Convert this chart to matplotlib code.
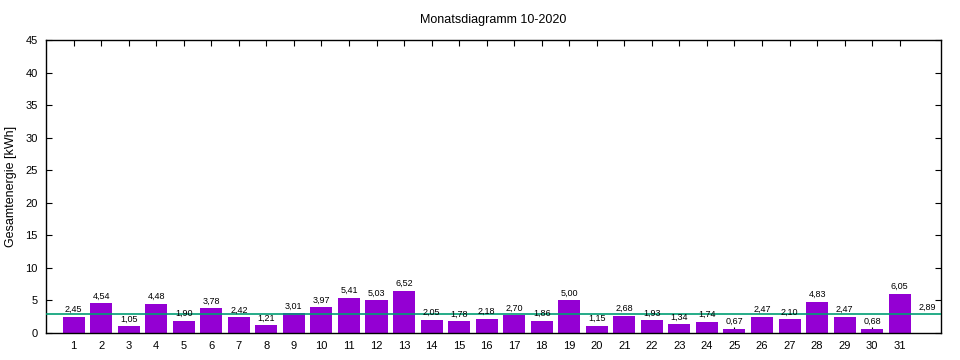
import matplotlib
matplotlib.use("Agg")
import matplotlib.pyplot as plt
import numpy as np

days = list(range(1, 32))
energy = [2.45, 4.54, 1.05, 4.48, 1.90, 3.78, 2.42, 1.21, 3.01, 3.97,
          5.41, 5.03, 6.52, 2.05, 1.78, 2.18, 2.70, 1.86, 5.00, 1.15,
          2.68, 1.93, 1.34, 1.74, 0.67, 2.47, 2.10, 4.83, 2.47, 0.68, 6.05]
average = 2.89
title = "Monatsdiagramm 10-2020"
ylabel = "Gesamtenergie [kWh]"


def fmt(v):
    return f"{v:.2f}".replace(".", ",")


plt.rcParams["font.family"] = ["Liberation Sans", "DejaVu Sans"]

fig = plt.figure(figsize=(9.6, 3.6), dpi=100, facecolor="white")
ax = fig.add_axes([0.048, 0.075, 0.9322, 0.8139])

ax.bar(days, energy, width=0.8, color="#9400d3", zorder=2)
ax.axhline(average, color="#009e73", lw=1.2, zorder=3)

for d, v in zip(days, energy):
    ax.annotate(fmt(v), (d, v), xytext=(0, 2), textcoords="offset points",
                ha="center", va="bottom", fontsize=6.5, color="black", zorder=4)
ax.annotate(fmt(average), (32, average), xytext=(0, 2), textcoords="offset points",
            ha="center", va="bottom", fontsize=6.5, color="black")

ax.set_xlim(0.0, 32.5)
ax.set_ylim(0, 45)
ax.set_xticks(days)
ax.set_yticks(np.arange(0, 46, 5))
ax.tick_params(direction="in", top=True, right=True, length=4, width=0.8,
               labelsize=8, pad=6)
for s in ax.spines.values():
    s.set_linewidth(1.0)

ax.set_ylabel(ylabel, fontsize=9, labelpad=6)
ax.set_title(title, fontsize=9, pad=12)

fig.savefig("out.png", dpi=100, facecolor="white")
